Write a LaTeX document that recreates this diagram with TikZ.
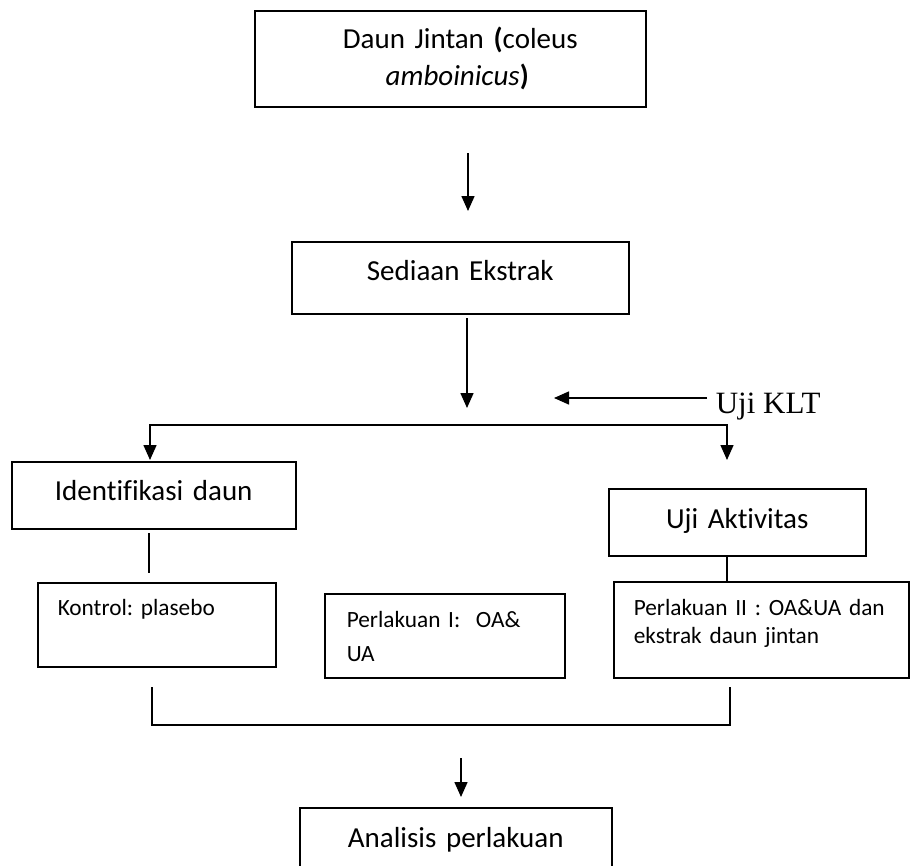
\documentclass[tikz,border=0pt]{standalone}
\usepackage{fontspec}
\setmainfont{Carlito}[Ligatures=NoCommon]
\newfontfamily\kltfont{Liberation Serif}
\usetikzlibrary{arrows.meta}
\frenchspacing
\begin{document}
\begin{tikzpicture}[x=1pt, y=-1pt, line width=1.5pt,
  blok/.style={draw, anchor=north west, inner ysep=0pt, inner xsep=0pt, align=center, font=\fontsize{29}{37}\selectfont},
  kecil/.style={blok, align=left, inner xsep=#1},
  panah/.style={-{Triangle[width=13pt,length=15pt]}},
  cabang/.style={{Triangle[width=13pt,length=15pt]}-{Triangle[width=13pt,length=15pt]}}]
\clip (0,0) rectangle (910,865);
% bahan dan ekstrak
\node[blok, text width=391pt, text height=38pt, text depth=58pt] (daun) at (254,10) {\hspace*{20pt}Daun Jintan \textbf{(}coleus\\\hspace*{14pt}\textit{amboinicus}\textbf{)}};
\node[blok, text width=337pt, text height=39pt, text depth=33pt] (sediaan) at (291,241) {Sediaan Ekstrak};
\node[font=\kltfont\fontsize{31}{36}\selectfont, anchor=base west, inner sep=0pt] (klt) at (715,413) {Uji KLT};
% cabang kiri dan kanan
\node[blok, text width=284pt, text height=39pt, text depth=28pt] (ident) at (11,461) {Identifikasi daun};
\node[blok, text width=257pt, text height=40pt, text depth=27pt] (ujiakt) at (608,488) {Uji Aktivitas};
% kelompok perlakuan
\node[kecil=20pt, font=\fontsize{23.3}{28}\selectfont, text width=198pt, text height=33pt, text depth=51pt] (kontrol) at (37,582) {Kontrol: plasebo};
\node[kecil=22pt, font=\fontsize{23.3}{34}\selectfont, text width=196pt, text height=34pt, text depth=50pt] (perl1) at (324,593) {Perlakuan I:\ \ OA\&\\UA};
\node[kecil=20pt, font=\fontsize{23.3}{28}\selectfont, text width=255pt, text height=34pt, text depth=62pt] (perl2) at (613,581) {\mbox{Perlakuan II : OA\&UA dan}\\ekstrak daun jintan};
\node[blok, text width=312pt, text height=40pt, text depth=60pt] (analisis) at (299,807) {Analisis perlakuan};
% ujung bebas
\coordinate (p1a) at (468,153); \coordinate (p1b) at (468,211);
\coordinate (p2a) at (467,318); \coordinate (p2b) at (467,408);
\coordinate (kltA) at (707,398); \coordinate (kltB) at (554,398);
\coordinate (cabKiri) at (150,460); \coordinate (cabKanan) at (727,460);
\coordinate (idA) at (149,533); \coordinate (idB) at (149,573);
\coordinate (gabKiri) at (152,687); \coordinate (gabKanan) at (730,687);
\coordinate (p3a) at (461,758); \coordinate (p3b) at (461,797);
% garis
\draw[panah] (p1a) -- (p1b);
\draw[panah] (p2a) -- (p2b);
\draw[panah] (kltA) -- (kltB);
\draw[cabang] (cabKiri) -- ++(0,-35) -| (cabKanan);
\draw (idA) -- (idB);
\draw ([xshift=-10.5pt]ujiakt.south) -- ([xshift=-10.5pt]ujiakt.south |- perl2.north);
\draw (gabKiri) -- ++(0,38) -| (gabKanan);
\draw[panah] (p3a) -- (p3b);
\end{tikzpicture}
\end{document}
